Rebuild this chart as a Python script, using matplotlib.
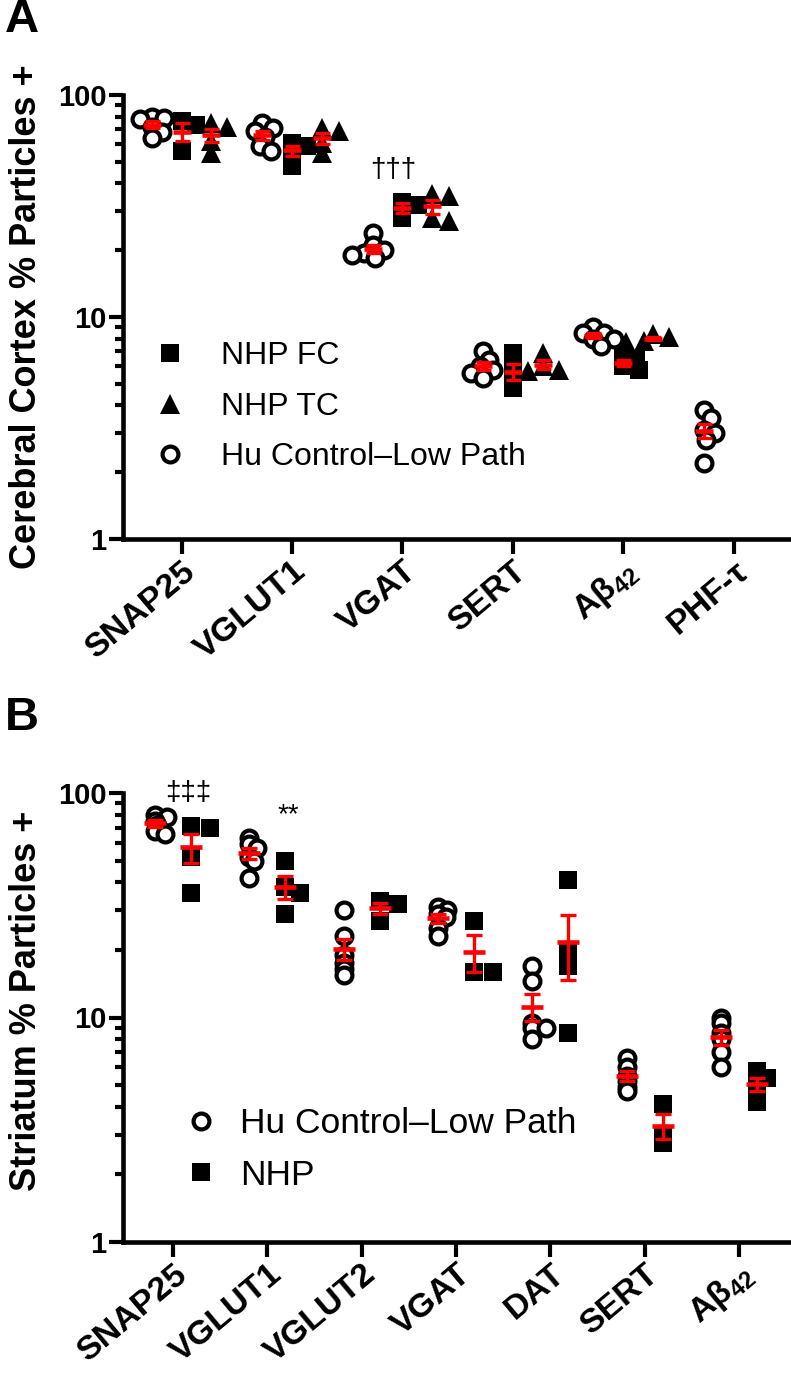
import numpy as np
import matplotlib
matplotlib.use("Agg")
import matplotlib.pyplot as plt
from matplotlib.lines import Line2D
from matplotlib.ticker import FixedLocator, NullFormatter, FixedFormatter
from matplotlib.transforms import ScaledTranslation

plt.rcParams['font.family'] = ['Liberation Sans', 'DejaVu Sans']
plt.rcParams['mathtext.fontset'] = 'custom'
plt.rcParams['mathtext.rm'] = 'Liberation Sans:bold'
plt.rcParams['mathtext.it'] = 'Liberation Sans:bold'
plt.rcParams['mathtext.bf'] = 'Liberation Sans:bold'

# ---------------- data: panel A (cerebral cortex) ----------------
cats_a = ["SNAP25", "VGLUT1", "VGAT", "SERT", "Aβ$_{42}$", "PHF-τ"]
hu_a = [[80, 79, 78, 72, 68, 64],
        [75, 71, 69, 65, 59, 56],
        [24, 21, 20, 19.5, 19, 18.5],
        [7.0, 6.4, 6.0, 5.8, 5.6, 5.3],
        [9.0, 8.5, 8.5, 8.0, 8.0, 7.4],
        [3.8, 3.5, 3.1, 3.0, 2.8, 2.2]]
fc_a = [[76, 73, 56],
        [61, 59, 57, 48],
        [33, 32, 28],
        [6.9, 5.8, 5.2, 4.8],
        [6.7, 6.4, 6.0, 5.8],
        []]
tc_a = [[75, 72, 62, 55],
        [71, 69, 61, 55],
        [36, 35, 28, 27],
        [6.9, 6.0, 5.8, 5.7],
        [8.4, 8.1, 7.8, 7.7],
        []]

# ---------------- data: panel B (striatum) ----------------
cats_b = ["SNAP25", "VGLUT1", "VGLUT2", "VGAT", "DAT", "SERT", "Aβ$_{42}$"]
hu_b = [[80, 78, 75, 72, 68, 66],
        [63, 59, 57, 52, 50, 42],
        [30, 23, 19, 17.5, 16.5, 15.5],
        [31, 30, 29, 28, 25, 23],
        [17, 14.5, 9.5, 9, 9, 8],
        [6.6, 6.0, 5.5, 5.2, 4.9, 4.7],
        [10, 9.5, 8.5, 8, 7, 6]]
nhp_b = [[71, 70, 52, 36],
         [50, 38, 36, 29],
         [33, 32, 27],
         [27, 16, 16],
         [41, 20, 17, 8.5],
         [4.1, 3.0, 2.75],
         [5.8, 5.4, 4.8, 4.2]]

W, H = 791, 1377
fig = plt.figure(figsize=(W / 100, H / 100), dpi=100)

def add_axes(top, bottom, left=123, right=791):
    return fig.add_axes([left / W, 1 - bottom / H, (right - left) / W, (bottom - top) / H])

axA = add_axes(95, 539)
axB = add_axes(793, 1242)

def style(ax, ncat, xlim, labels, ylabel, ylab_y):
    ax.set_yscale('log')
    ax.set_ylim(1, 100)
    ax.set_xlim(*xlim)
    for s in ('top', 'right'):
        ax.spines[s].set_visible(False)
    for s in ('left', 'bottom'):
        ax.spines[s].set_linewidth(3.3)
    ax.yaxis.set_major_locator(FixedLocator([1, 10, 100]))
    ax.yaxis.set_major_formatter(FixedFormatter(['1', '10', '100']))
    minors = [m * d for d in (1, 10) for m in range(2, 10)]
    ax.yaxis.set_minor_locator(FixedLocator(minors))
    ax.yaxis.set_minor_formatter(NullFormatter())
    ax.tick_params(axis='y', which='major', length=10, width=3, labelsize=21, pad=2)
    ax.tick_params(axis='y', which='minor', length=6, width=3)
    ax.set_xticks(range(ncat))
    ax.set_xticklabels([''] * ncat)
    ax.tick_params(axis='x', which='major', length=11, width=3)
    ax.tick_params(axis='x', which='minor', length=0)
    for t in ax.get_yticklabels():
        t.set_fontweight('bold')
    ax.set_ylabel(ylabel, fontsize=26, fontweight='bold', labelpad=10)
    ax.yaxis.label.set_y(ylab_y)
    # category labels, rotated, hanging under each tick
    off = ScaledTranslation(16 / 100, -35 / 100, fig.dpi_scale_trans)
    for i, lab in enumerate(labels):
        ax.text(i, 0, lab, transform=ax.get_xaxis_transform() + off, rotation=40,
                rotation_mode='anchor', ha='right', va='baseline', fontsize=24.5,
                fontweight='bold')

style(axA, len(cats_a), (-0.53, 5.52), cats_a, "Cerebral Cortex % Particles +", 0.5)
style(axB, len(cats_b), (-0.53, 6.55), cats_b, "Striatum % Particles +", 0.538)

def swarm_x(ax, xc, vals, sx, sy):
    vals = np.asarray(vals, float)
    pts = ax.transData.transform(np.column_stack([np.full(len(vals), xc), vals]))
    cx = pts[0, 0]
    order = np.argsort(-pts[:, 1])
    placed = []
    xs = np.empty(len(vals))
    for i in order:
        y = pts[i, 1]
        k = 0.0
        found = None
        while found is None:
            cands = (cx,) if k == 0 else (cx + k, cx - k)
            for x in cands:
                if all(((x - px) / sx) ** 2 + ((y - py) / sy) ** 2 >= 1 for px, py in placed):
                    found = x
                    break
            k += 0.5
        placed.append((found, y))
        xs[i] = found
    back = ax.transData.inverted().transform(np.column_stack([xs, pts[:, 1]]))
    return back[:, 0]

STY = {
    'hu': dict(marker='o', mfc='white', mec='black', ms=11.4, mew=3.0),
    'sq': dict(marker='s', mfc='black', mec='black', ms=13, mew=0),
    'tr': dict(marker='^', mfc='black', mec='black', ms=14.5, mew=0),
}

def draw_group(ax, xc, vals, kind, meanw, capsz, sx, sy):
    if len(vals) == 0:
        return
    xs = swarm_x(ax, xc, vals, sx, sy)
    ax.plot(xs, vals, ls='none', zorder=3, clip_on=False, **STY[kind])
    v = np.asarray(vals, float)
    m = v.mean()
    sem = v.std(ddof=1) / np.sqrt(len(v))
    ax.errorbar([xc], [m], yerr=[sem], fmt='none', ecolor='red', elinewidth=2.4,
                capsize=capsz, capthick=2.4, zorder=5)
    ax.plot([xc], [m], ls='none', marker='_', ms=meanw, mew=3.3, color='red', zorder=6)

offA = 0.27
for i in range(len(cats_a)):
    draw_group(axA, i - offA, hu_a[i], 'hu', 13, 5.4, 12, 10)
    draw_group(axA, i, fc_a[i], 'sq', 13, 5.4, 18, 6)
    draw_group(axA, i + offA, tc_a[i], 'tr', 13, 5.4, 18, 8)

offB = 0.19
for i in range(len(cats_b)):
    draw_group(axB, i - offB, hu_b[i], 'hu', 16.5, 5.8, 14, 4)
    draw_group(axB, i + offB, nhp_b[i], 'sq', 16.5, 5.8, 19, 8)

# significance marks
axA.text(2 - 0.08, 46, "†††", ha='center', va='center', fontsize=20)
axB.text(0.16, 100, "‡‡‡", ha='center', va='center', fontsize=20)
axB.text(1.22, 80, "**", ha='center', va='center', fontsize=20)

# legends
hA = [Line2D([], [], ls='none', **STY['sq']),
      Line2D([], [], ls='none', **STY['tr']),
      Line2D([], [], ls='none', **STY['hu'])]
axA.legend(hA, ["NHP FC", "NHP TC", "Hu Control–Low Path"], loc='upper left',
           bbox_to_anchor=(0.046, 0.445), frameon=False, fontsize=23, handlelength=1.0,
           handletextpad=1.1, labelspacing=0.64, borderpad=0, borderaxespad=0)
hB = [Line2D([], [], ls='none', **STY['hu']),
      Line2D([], [], ls='none', **STY['sq'])]
axB.legend(hB, ["Hu Control–Low Path", "NHP"], loc='upper left',
           bbox_to_anchor=(0.09, 0.30), frameon=False, fontsize=25.5, handlelength=1.0,
           handletextpad=0.62, labelspacing=0.52, borderpad=0, borderaxespad=0)

fig.text(5 / W, 1 - 20 / H, "A", fontsize=34, fontweight='bold', va='center', ha='left')
fig.text(5 / W, 1 - 718 / H, "B", fontsize=34, fontweight='bold', va='center', ha='left')

fig.savefig("out.png", dpi=100)
